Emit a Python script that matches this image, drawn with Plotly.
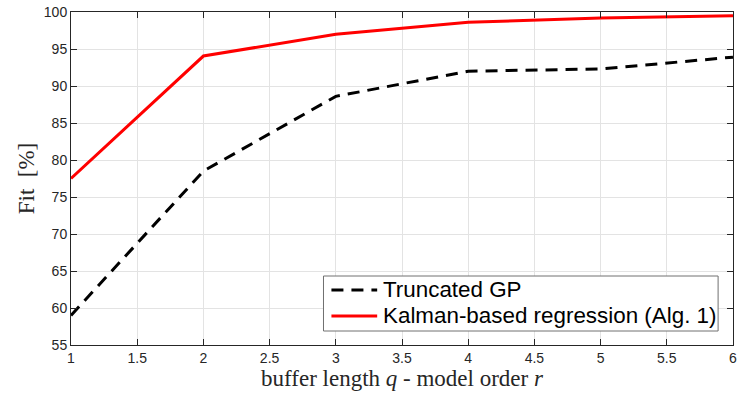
import plotly.graph_objects as go

# buffer length q / model order r
orders = [1, 2, 3, 4, 5, 6]
fit_truncated_gp = [59.0, 78.5, 88.6, 92.0, 92.3, 93.9]
fit_kalman = [77.5, 94.05, 97.0, 98.6, 99.2, 99.5]

series_names = ["Truncated GP", "Kalman-based regression (Alg. 1)"]

x_ticks = [1, 1.5, 2, 2.5, 3, 3.5, 4, 4.5, 5, 5.5, 6]
y_ticks = [55, 60, 65, 70, 75, 80, 85, 90, 95, 100]

axis_color = "#262626"
grid_color = "#e3e3e3"
styles = [
    dict(color="black", width=3, dash="12px,8px"),
    dict(color="#ff0000", width=3),
]

fig = go.Figure()
for name, values, style in zip(series_names, [fit_truncated_gp, fit_kalman], styles):
    fig.add_trace(go.Scatter(x=orders, y=values, mode="lines", name=name,
                             line=style, showlegend=False))

axis_common = dict(
    showline=True, linecolor=axis_color, linewidth=1, mirror="ticks",
    ticks="inside", ticklen=6, tickcolor=axis_color,
    showgrid=True, gridcolor=grid_color, gridwidth=1,
    zeroline=False, ticklabeloverflow="allow",
    tickfont=dict(family="Liberation Sans, Arial, sans-serif", size=14, color=axis_color),
)

fig.update_xaxes(
    range=[1, 6], tickvals=x_ticks, ticktext=[f"{v:g}" for v in x_ticks],
    title=dict(text="buffer length <i>q</i> - model order <i>r</i>",
               font=dict(family="Liberation Serif, DejaVu Serif, serif", size=23, color=axis_color),
               standoff=4),
    **axis_common,
)
fig.update_yaxes(
    range=[55, 100], tickvals=y_ticks, ticktext=[str(v) for v in y_ticks],
    title=dict(text="Fit  [%]",
               font=dict(family="Liberation Serif, DejaVu Serif, serif", size=23, color=axis_color),
               standoff=2),
    **axis_common,
)

# Compact boxed legend in the lower right corner of the axes
box_x0, box_x1, box_y0, box_y1 = 0.3814, 0.9775, 0.042, 0.2072
sample_x0, sample_x1, text_x = 0.3934, 0.4625, 0.469
row_y = [0.1652, 0.0871]

shapes = [dict(type="rect", xref="paper", yref="paper", layer="above",
               x0=box_x0, x1=box_x1, y0=box_y0, y1=box_y1,
               fillcolor="white", line=dict(color="#707070", width=1))]
annotations = []
for name, style, ry in zip(series_names, styles, row_y):
    shapes.append(dict(type="line", xref="paper", yref="paper", layer="above",
                       x0=sample_x0, x1=sample_x1, y0=ry, y1=ry,
                       line=dict(color=style["color"], width=style["width"],
                                 dash=style.get("dash", "solid"))))
    annotations.append(dict(xref="paper", yref="paper", x=text_x, y=ry,
                            xanchor="left", yanchor="middle", showarrow=False,
                            text=name,
                            font=dict(family="Liberation Sans, Arial, sans-serif",
                                      size=22.4, color="black")))

fig.update_layout(
    width=738, height=394,
    margin=dict(l=71, r=1, t=12, b=49),
    paper_bgcolor="white", plot_bgcolor="white",
    showlegend=False,
    shapes=shapes, annotations=annotations,
)

fig.write_html("out.html")
